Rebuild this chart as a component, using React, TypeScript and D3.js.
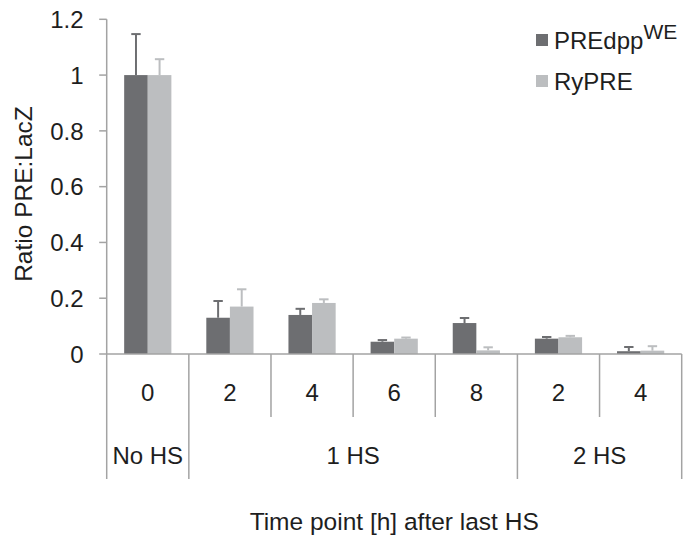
import * as d3 from "d3";

// Values
const timeLabels = ["0", "2", "4", "6", "8", "2", "4"];
const groupLabels = ["No HS", "1 HS", "2 HS"];
const groupSpans = [1, 4, 2];

const predppValues = [1.0, 0.13, 0.14, 0.044, 0.111, 0.055, 0.01];
const predppErrors = [0.147, 0.06, 0.022, 0.006, 0.018, 0.006, 0.015];
const rypreValues = [1.0, 0.17, 0.183, 0.055, 0.013, 0.06, 0.012];
const rypreErrors = [0.057, 0.062, 0.013, 0.004, 0.011, 0.005, 0.016];

const yTicks = [0, 0.2, 0.4, 0.6, 0.8, 1.0, 1.2];

const series = [
  { key: "predpp", values: predppValues, errors: predppErrors, color: "#6d6e71" },
  { key: "rypre", values: rypreValues, errors: rypreErrors, color: "#bcbec0" },
];

const W = 690;
const H = 536;
const FONT = "'Liberation Sans', Arial, Helvetica, sans-serif";
const AXIS = "#a3a3a3";
const TEXT = "#1e1e1e";

export default function App() {
  const left = 106.7;
  const right = 681.7;
  const top = 19.3;
  const bottom = 354;

  const x = d3.scaleBand<number>()
    .domain(timeLabels.map((_, i) => i))
    .range([left, right])
    .padding(0);

  const xSub = d3.scaleBand<string>()
    .domain(series.map((s) => s.key))
    .range([0, x.step()])
    .paddingInner(0)
    .paddingOuter(0.74);

  const y = d3.scaleLinear().domain([0, 1.2]).range([bottom, top]);
  const fmt = (v: number) => (v === 0 ? "0" : v === 1 ? "1" : d3.format(".1f")(v));

  // group boundaries (category indices)
  const groupStarts: number[] = [];
  groupSpans.reduce((acc, s) => {
    groupStarts.push(acc);
    return acc + s;
  }, 0);
  const groupEdges = new Set<number>([...groupStarts, timeLabels.length]);

  const catRowY = 417;
  const groupRowY = 479;
  const capHalf = 4.7;

  return (
    <svg
      width={W}
      height={H}
      style={{ position: "absolute", left: 0, top: 0, background: "#fff" }}
      fontFamily={FONT}
    >
      {/* bars */}
      {series.map((s) =>
        s.values.map((v, i) => {
          const bx = (x(i) || 0) + (xSub(s.key) || 0);
          const bw = xSub.bandwidth();
          const cx = bx + bw / 2;
          const yTop = y(v + s.errors[i]);
          return (
            <g key={`${s.key}-${i}`}>
              <rect x={bx} y={y(v)} width={bw} height={y(0) - y(v)} fill={s.color} />
              <line x1={cx} x2={cx} y1={y(v)} y2={yTop} stroke={s.color} strokeWidth={2} />
              <line x1={cx - capHalf} x2={cx + capHalf} y1={yTop} y2={yTop} stroke={s.color} strokeWidth={2} />
            </g>
          );
        })
      )}

      {/* y axis */}
      <line x1={left} x2={left} y1={top} y2={bottom} stroke={AXIS} strokeWidth={1.5} />
      {yTicks.map((t) => (
        <g key={t}>
          <line x1={left - 7.5} x2={left} y1={y(t)} y2={y(t)} stroke={AXIS} strokeWidth={1.5} />
          <text x={83.5} y={y(t)} dy="0.36em" textAnchor="end" fontSize={24} fill={TEXT}>
            {fmt(t)}
          </text>
        </g>
      ))}
      <text
        transform={`translate(23,194) rotate(-90)`}
        dy="0.36em"
        textAnchor="middle"
        fontSize={24.5}
        fill={TEXT}
      >
        Ratio PRE:LacZ
      </text>

      {/* x axis + category separators */}
      <line x1={left} x2={right} y1={bottom} y2={bottom} stroke={AXIS} strokeWidth={1.5} />
      {d3.range(timeLabels.length + 1).map((i) => {
        const xx = left + i * x.step();
        return (
          <line
            key={`sep-${i}`}
            x1={xx}
            x2={xx}
            y1={bottom}
            y2={groupEdges.has(i) ? groupRowY : catRowY}
            stroke={AXIS}
            strokeWidth={1.5}
          />
        );
      })}
      {timeLabels.map((t, i) => (
        <text
          key={`cat-${i}`}
          x={(x(i) || 0) + x.bandwidth() / 2}
          y={392}
          dy="0.36em"
          textAnchor="middle"
          fontSize={24}
          fill={TEXT}
        >
          {t}
        </text>
      ))}
      {groupLabels.map((g, gi) => {
        const s = groupStarts[gi];
        const x0 = x(s) || 0;
        const x1 = (x(s + groupSpans[gi] - 1) || 0) + x.bandwidth();
        return (
          <text
            key={`grp-${gi}`}
            x={(x0 + x1) / 2}
            y={455}
            dy="0.36em"
            textAnchor="middle"
            fontSize={24}
            fill={TEXT}
          >
            {g}
          </text>
        );
      })}
      <text
        x={(left + right) / 2}
        y={521.5}
        dy="0.36em"
        textAnchor="middle"
        fontSize={24.5}
        fill={TEXT}
      >
        Time point [h] after last HS
      </text>

      {/* legend */}
      <rect x={536} y={34} width={12} height={12} fill={series[0].color} />
      <text x={554} y={48.5} fontSize={24} fill={TEXT}>
        PREdpp
        <tspan dy={-10} fontSize={21}>WE</tspan>
      </text>
      <rect x={536} y={75} width={12} height={12} fill={series[1].color} />
      <text x={554} y={89.5} fontSize={24} fill={TEXT}>
        RyPRE
      </text>
    </svg>
  );
}
